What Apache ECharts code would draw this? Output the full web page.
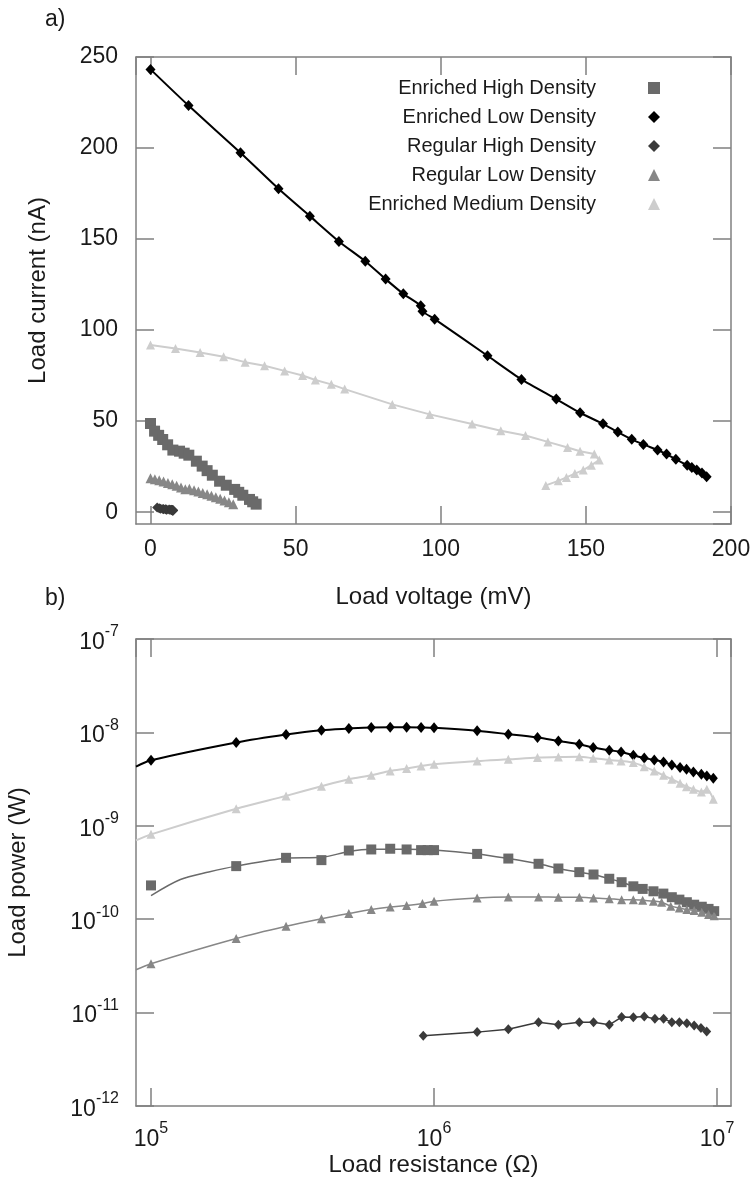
<!DOCTYPE html>
<html><head><meta charset="utf-8">
<script src="https://cdn.jsdelivr.net/npm/echarts@6/dist/echarts.min.js"></script>
<style>html,body{margin:0;padding:0;background:#fff}#c{width:755px;height:1195px}</style>
</head><body><div id="c"></div>
<script>
// ---------- Panel a) : Load current (nA) vs Load voltage (mV) ----------
const ehdTopV = [0,1.4,2.8,4.2,5.9,7.7,10,11.6,13.2,15.8,17.8,19.5,21.3,23.8,26.1,29,30.4,31.8,34.1,35.2,36.4];
const ehdTopI = [48.7,44.5,42.2,39.9,37,34.1,33.5,32.4,31.3,28,25.3,22.8,20.3,17,14.8,12.5,10.9,9.3,7,5.7,4.4];
const eldTopV = [0,13.1,31.0,44.1,54.9,64.9,74.0,81.0,87.1,93.1,93.7,97.9,116.1,127.8,139.8,148.0,155.9,161.0,165.8,169.8,174.7,177.8,181.0,184.9,186.5,188.2,190.0,191.6];
const eldTopI = [243.2,223.3,197.4,177.6,162.6,148.7,137.8,128.0,119.9,113.4,110.3,106.0,85.9,72.9,62.1,54.6,48.5,44.0,40.0,37.2,34.1,31.9,29.0,25.8,24.5,23.1,21.5,19.4];
const rhdTopV = [2.3,3.0,3.5,4.3,4.5,5.1,5.4,5.6,6.4,6.7,7.1,7.2,7.5,7.4,7.6,7.8,7.8,7.7,7.6];
const rhdTopI = [2.5,2.1,1.9,1.8,1.6,1.6,1.5,1.3,1.4,1.3,1.3,1.2,1.2,1.1,1.0,1.0,0.9,0.9,0.8];
const rldTopV = [0,1.5,3,4.5,6,7.5,9,10.5,12,13.4,15,16.5,18,19.5,21,22.5,24,25.5,27,28.5];
const rldTopI = [18.6,18.1,17.5,16.8,16.0,15.3,14.5,13.6,12.6,12.8,12.0,11.3,10.5,9.8,9.0,8.2,7.3,6.4,5.4,4.4];
const emdTopV = [0,8.6,17.1,25.2,32.6,39.3,46.2,52.4,56.8,62.3,66.9,83.3,96.2,110.8,120.7,129.2,136.9,143.7,148,152.9,154.6,151.9,149.1,146.2,143.3,140.5,136.2];
const emdTopI = [91.8,89.9,87.7,85.4,82.4,80.4,77.6,75.1,72.6,70.2,67.6,59.2,53.7,48.4,44.7,42.1,38.6,35.5,33.5,31.9,28.6,25.8,23.1,21.2,19.1,17.2,14.7];

// ---------- Panel b) : Load power (W) vs Load resistance (Ohm) ----------
const ehdBotR = [1e5,2e5,3e5,4e5,5e5,6e5,7e5,8e5,9e5,9.5e5,1e6,1.42e6,1.83e6,2.34e6,2.75e6,3.26e6,3.66e6,4.16e6,4.6e6,5.06e6,5.46e6,5.96e6,6.46e6,6.92e6,7.36e6,7.82e6,8.3e6,8.83e6,9.33e6,9.77e6];
const ehdBotP = [2.3e-10,3.7e-10,4.54e-10,4.29e-10,5.44e-10,5.58e-10,5.68e-10,5.58e-10,5.49e-10,5.49e-10,5.49e-10,5.0e-10,4.46e-10,3.92e-10,3.49e-10,3.19e-10,3.01e-10,2.71e-10,2.49e-10,2.25e-10,2.11e-10,1.99e-10,1.88e-10,1.72e-10,1.62e-10,1.52e-10,1.43e-10,1.36e-10,1.29e-10,1.22e-10];
const ehdFitR = [1e5,1.27e5,1.6e5,2e5,3e5,4e5,5e5,6e5,8e5,1e6,1.42e6,1.83e6,2.34e6,2.75e6,3.26e6,3.66e6,4.16e6,4.6e6,5.06e6,5.96e6,6.92e6,7.82e6,8.83e6,1e7];
const ehdFitP = [1.79e-10,2.66e-10,3.2e-10,3.7e-10,4.5e-10,4.6e-10,5.3e-10,5.6e-10,5.6e-10,5.5e-10,5.0e-10,4.46e-10,3.92e-10,3.49e-10,3.19e-10,3.01e-10,2.71e-10,2.49e-10,2.25e-10,1.99e-10,1.72e-10,1.52e-10,1.36e-10,1.17e-10];

const eldBotR = [1e5,2e5,3e5,4e5,5e5,6e5,7e5,8e5,9e5,1e6,1.42e6,1.83e6,2.32e6,2.75e6,3.26e6,3.65e6,4.16e6,4.58e6,5.06e6,5.53e6,6.0e6,6.47e6,6.92e6,7.4e6,7.8e6,8.25e6,8.8e6,9.2e6,9.7e6];
const eldBotP = [5.03e-9,7.8e-9,9.5e-9,1.057e-8,1.10e-8,1.13e-8,1.135e-8,1.135e-8,1.13e-8,1.12e-8,1.04e-8,9.57e-9,8.8e-9,8.1e-9,7.47e-9,6.9e-9,6.44e-9,6.18e-9,5.69e-9,5.32e-9,5.07e-9,4.82e-9,4.48e-9,4.2e-9,4.03e-9,3.77e-9,3.56e-9,3.41e-9,3.23e-9];
const eldEdge = [88500, 4.3e-9];

const rhdBotR = [9.16e5,1.42e6,1.83e6,2.34e6,2.75e6,3.26e6,3.66e6,4.16e6,4.6e6,5.06e6,5.53e6,6.03e6,6.47e6,6.92e6,7.36e6,7.82e6,8.3e6,8.77e6,9.19e6];
const rhdBotP = [5.64e-12,6.18e-12,6.65e-12,7.9e-12,7.4e-12,7.9e-12,7.9e-12,7.4e-12,8.97e-12,8.9e-12,9.07e-12,8.57e-12,8.57e-12,7.9e-12,7.9e-12,7.7e-12,7.28e-12,6.82e-12,6.28e-12];

const rldBotR = [1e5,2e5,3e5,4e5,5e5,6e5,7e5,8e5,9.1e5,1e6,1.42e6,1.83e6,2.34e6,2.75e6,3.26e6,3.66e6,4.16e6,4.6e6,5.06e6,5.46e6,5.96e6,6.37e6,6.86e6,7.36e6,7.82e6,8.3e6,8.83e6,9.33e6,9.77e6];
const rldBotP = [3.34e-11,6.2e-11,8.4e-11,1.01e-10,1.15e-10,1.27e-10,1.35e-10,1.4e-10,1.47e-10,1.56e-10,1.69e-10,1.73e-10,1.73e-10,1.72e-10,1.72e-10,1.69e-10,1.66e-10,1.62e-10,1.62e-10,1.6e-10,1.56e-10,1.52e-10,1.38e-10,1.32e-10,1.27e-10,1.24e-10,1.19e-10,1.12e-10,1.09e-10];
const rldEdge = [88500, 2.88e-11];

const emdBotR = [1e5,2e5,3e5,4e5,5e5,6e5,7e5,8e5,9e5,1e6,1.42e6,1.83e6,2.32e6,2.75e6,3.26e6,3.65e6,4.16e6,4.58e6,5.06e6,5.53e6,6.0e6,6.47e6,6.92e6,7.4e6,7.8e6,8.25e6,8.8e6,9.2e6,9.7e6];
const emdBotP = [8.1e-10,1.52e-9,2.09e-9,2.65e-9,3.15e-9,3.48e-9,3.87e-9,4.1e-9,4.36e-9,4.56e-9,4.94e-9,5.15e-9,5.37e-9,5.46e-9,5.5e-9,5.29e-9,5.07e-9,4.94e-9,4.75e-9,4.3e-9,3.86e-9,3.47e-9,3.15e-9,2.85e-9,2.62e-9,2.46e-9,2.3e-9,2.46e-9,1.92e-9];
const emdEdge = [88500, 6.97e-10];

const names = ['Enriched High Density','Enriched Low Density','Regular High Density','Regular Low Density','Enriched Medium Density'];
const icons = ['rect','diamond','diamond','triangle','triangle'];
const colors = ['#6a6a6a','#000000','#3a3a3a','#878787','#cdcdcd'];

const zip = (a, b) => a.map((v, i) => [v, b[i]]);
const FONT = '"Liberation Sans", Arial, sans-serif';
const TXT = '#1a1a1a';
const FRAME = '#808080';

const chart = echarts.init(document.getElementById('c'), null, {renderer: 'canvas'});

function axisBase(extra) {
  return Object.assign({
    axisLine: {show: true, onZero: false, lineStyle: {color: FRAME, width: 1.5}},
    axisTick: {show: true, inside: true, length: 18, lineStyle: {color: FRAME, width: 1.5}},
    splitLine: {show: false},
    minorTick: {show: false}
  }, extra);
}
const numLabel = {fontSize: 23, color: TXT, fontFamily: FONT, margin: 18, showMinLabel: false};
const logFmt = v => '{b|10}{s|' + Math.round(Math.log10(v)) + '}';
const logRich = {
  b: {fontSize: 23, fontFamily: FONT, color: TXT, lineHeight: 30, verticalAlign: 'bottom'},
  s: {fontSize: 16, fontFamily: FONT, color: TXT, lineHeight: 17, verticalAlign: 'top'}
};
const nameStyle = {fontSize: 24, color: TXT, fontFamily: FONT};

const X0MIN = -5, X0MAX = 200, Y0MIN = -6.5, Y0MAX = 250;
const X1MIN = 88500, X1MAX = 1.12e7, Y1MIN = 1e-12, Y1MAX = 1e-7;

const lineS = (name, data, color, sym, size, opts) => Object.assign({
  type: 'line', name, data, xAxisIndex: 0, yAxisIndex: 0,
  symbol: sym, symbolSize: size, showAllSymbol: true,
  itemStyle: {color}, lineStyle: {color, width: 1.5},
  emphasis: {disabled: true}, animation: false
}, opts || {});
const scatS = (name, data, color, sym, size) => ({
  type: 'scatter', name, data, xAxisIndex: 1, yAxisIndex: 1,
  symbol: sym, symbolSize: size, itemStyle: {color, opacity: 1},
  emphasis: {disabled: true}, animation: false
});
const fitS = (name, data, color, width) => ({
  type: 'line', name, data, xAxisIndex: 1, yAxisIndex: 1, symbol: 'none', smooth: 0.3,
  lineStyle: {color, width: width || 1.5}, itemStyle: {color},
  emphasis: {disabled: true}, animation: false
});

const option = {
  backgroundColor: '#ffffff',
  animation: false,
  textStyle: {fontFamily: FONT},
  grid: [
    {left: 136, top: 57, width: 595, height: 467, containLabel: false, outerBoundsMode: 'none'},
    {left: 136, top: 639, width: 595, height: 467, containLabel: false, outerBoundsMode: 'none'}
  ],
  xAxis: [
    axisBase({type: 'value', gridIndex: 0, min: X0MIN, max: X0MAX, position: 'bottom',
      name: 'Load voltage (mV)', nameLocation: 'middle', nameGap: 61, nameTextStyle: nameStyle,
      axisLabel: Object.assign({}, numLabel, {margin: 14, showMaxLabel: true})}),
    axisBase({type: 'log', gridIndex: 1, min: X1MIN, max: X1MAX, position: 'bottom', logBase: 10,
      name: 'Load resistance (\u03a9)', nameLocation: 'middle', nameGap: 47, nameTextStyle: nameStyle,
      axisLabel: {formatter: logFmt, rich: logRich, margin: 15, showMinLabel: false, showMaxLabel: false}}),
    axisBase({type: 'value', gridIndex: 0, min: X0MIN, max: X0MAX, position: 'top', axisLabel: {show: false}}),
    axisBase({type: 'log', gridIndex: 1, min: X1MIN, max: X1MAX, position: 'top', logBase: 10, axisLabel: {show: false}})
  ],
  yAxis: [
    axisBase({type: 'value', gridIndex: 0, min: Y0MIN, max: Y0MAX, position: 'left',
      name: 'Load current (nA)', nameLocation: 'middle', nameGap: 86, nameTextStyle: nameStyle,
      axisLabel: Object.assign({}, numLabel)}),
    axisBase({type: 'log', gridIndex: 1, min: Y1MIN, max: Y1MAX, position: 'left', logBase: 10,
      name: 'Load power (W)', nameLocation: 'middle', nameGap: 106, nameTextStyle: nameStyle,
      axisLabel: {formatter: logFmt, rich: logRich, margin: 17, showMinLabel: true, showMaxLabel: true}}),
    axisBase({type: 'value', gridIndex: 0, min: Y0MIN, max: Y0MAX, position: 'right', axisLabel: {show: false}}),
    axisBase({type: 'log', gridIndex: 1, min: Y1MIN, max: Y1MAX, position: 'right', logBase: 10, axisLabel: {show: false}})
  ],
  legend: {
    orient: 'vertical', align: 'right', right: 95, top: 76, padding: 0,
    itemWidth: 12, itemHeight: 12, itemGap: 5,
    selectedMode: false,
    data: names.map((n, i) => ({name: n, icon: icons[i]})),
    formatter: '{t|{name}}',
    textStyle: {color: TXT, fontFamily: FONT, fontSize: 20, lineHeight: 24,
      rich: {t: {fontSize: 20, fontFamily: FONT, color: TXT, lineHeight: 24, padding: [0, 47, 0, 0]}}}
  },
  graphic: [
    {type: 'text', left: 45, top: 8, style: {text: 'a)', fontSize: 23, fontFamily: FONT, fill: TXT}},
    {type: 'text', left: 45, top: 587, style: {text: 'b)', fontSize: 23, fontFamily: FONT, fill: TXT}}
  ],
  series: [
    // panel a
    lineS(names[0], zip(ehdTopV, ehdTopI), colors[0], 'rect', 11, {lineStyle: {color: colors[0], width: 1}}),
    lineS(names[1], zip(eldTopV, eldTopI), colors[1], 'diamond', [10, 11], {smooth: 0.2, lineStyle: {color: colors[1], width: 2}}),
    lineS(names[2], zip(rhdTopV, rhdTopI), colors[2], 'diamond', [10, 10], {lineStyle: {color: colors[2], width: 1}}),
    lineS(names[3], zip(rldTopV, rldTopI), colors[3], 'triangle', 10, {lineStyle: {color: colors[3], width: 1}}),
    lineS(names[4], zip(emdTopV, emdTopI), colors[4], 'triangle', 9, {lineStyle: {color: colors[4], width: 2}}),
    // panel b
    fitS(names[0], zip(ehdFitR, ehdFitP), colors[0], 1.5),
    scatS(names[0], zip(ehdBotR, ehdBotP), colors[0], 'rect', 10),
    fitS(names[1], [eldEdge].concat(zip(eldBotR, eldBotP)), colors[1], 2),
    scatS(names[1], zip(eldBotR, eldBotP), colors[1], 'diamond', [9, 11]),
    Object.assign(lineS(names[2], zip(rhdBotR, rhdBotP), colors[2], 'diamond', [9, 10]), {xAxisIndex: 1, yAxisIndex: 1}),
    fitS(names[3], [rldEdge].concat(zip(rldBotR, rldBotP)), colors[3], 1.5),
    scatS(names[3], zip(rldBotR, rldBotP), colors[3], 'triangle', 9),
    fitS(names[4], [emdEdge].concat(zip(emdBotR, emdBotP)), colors[4], 2),
    scatS(names[4], zip(emdBotR, emdBotP), colors[4], 'triangle', 9)
  ]
};
chart.setOption(option);
</script></body></html>
